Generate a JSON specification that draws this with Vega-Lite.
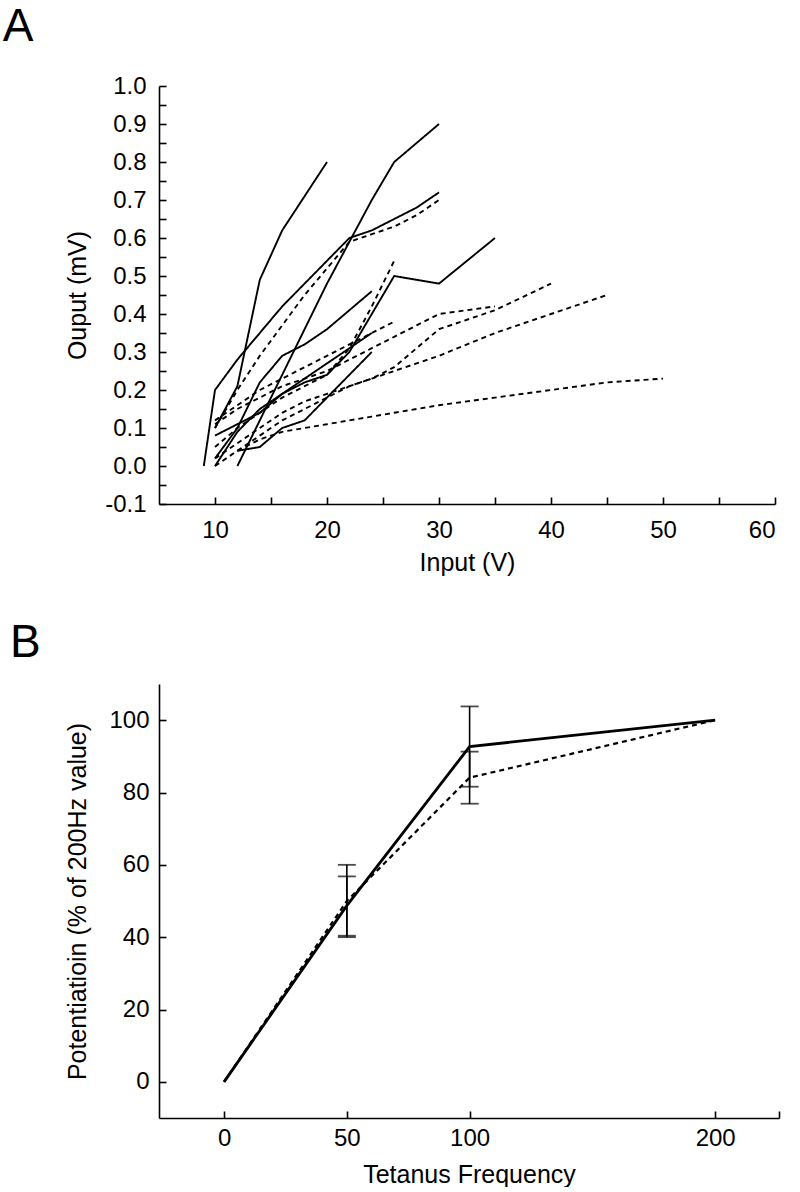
{
  "$schema": "https://vega.github.io/schema/vega-lite/v6.json",
  "background": "white",
  "padding": {"left": 2, "top": 4, "right": 5, "bottom": 0},
  "spacing": 45,
  "config": {
    "font": "Liberation Sans",
    "view": {"stroke": null},
    "axis": {
      "domainColor": "black", "tickColor": "black", "labelColor": "black", "titleColor": "black",
      "labelFont": "Liberation Sans", "titleFont": "Liberation Sans",
      "labelFontSize": 24, "titleFontSize": 25, "titleFontWeight": "normal",
      "grid": false, "domainWidth": 1.6, "tickWidth": 1.6, "tickSize": -7, "labelPadding": 21,
      "labelOverlap": false
    },
    "title": {"fontSize": 46, "fontWeight": "normal", "anchor": "start", "frame": "bounds", "color": "black", "font": "Liberation Sans"}
  },
  "datasets": {
    "a": [
      {"series": "S1", "kind": "control", "input": 10, "output": 0.10},
      {"series": "S1", "kind": "control", "input": 12, "output": 0.21},
      {"series": "S1", "kind": "control", "input": 14, "output": 0.49},
      {"series": "S1", "kind": "control", "input": 16, "output": 0.62},
      {"series": "S1", "kind": "control", "input": 18, "output": 0.71},
      {"series": "S1", "kind": "control", "input": 20, "output": 0.80},
      {"series": "S2", "kind": "control", "input": 12, "output": 0.0},
      {"series": "S2", "kind": "control", "input": 14, "output": 0.12},
      {"series": "S2", "kind": "control", "input": 16, "output": 0.24},
      {"series": "S2", "kind": "control", "input": 18, "output": 0.36},
      {"series": "S2", "kind": "control", "input": 20, "output": 0.48},
      {"series": "S2", "kind": "control", "input": 22, "output": 0.59},
      {"series": "S2", "kind": "control", "input": 24, "output": 0.70},
      {"series": "S2", "kind": "control", "input": 26, "output": 0.80},
      {"series": "S2", "kind": "control", "input": 28, "output": 0.85},
      {"series": "S2", "kind": "control", "input": 30, "output": 0.90},
      {"series": "S3", "kind": "control", "input": 9, "output": 0.0},
      {"series": "S3", "kind": "control", "input": 10, "output": 0.20},
      {"series": "S3", "kind": "control", "input": 12, "output": 0.28},
      {"series": "S3", "kind": "control", "input": 14, "output": 0.35},
      {"series": "S3", "kind": "control", "input": 16, "output": 0.42},
      {"series": "S3", "kind": "control", "input": 18, "output": 0.48},
      {"series": "S3", "kind": "control", "input": 20, "output": 0.54},
      {"series": "S3", "kind": "control", "input": 22, "output": 0.60},
      {"series": "S3", "kind": "control", "input": 24, "output": 0.62},
      {"series": "S3", "kind": "control", "input": 26, "output": 0.65},
      {"series": "S3", "kind": "control", "input": 28, "output": 0.68},
      {"series": "S3", "kind": "control", "input": 30, "output": 0.72},
      {"series": "S4", "kind": "control", "input": 10, "output": 0.0},
      {"series": "S4", "kind": "control", "input": 12, "output": 0.09},
      {"series": "S4", "kind": "control", "input": 14, "output": 0.15},
      {"series": "S4", "kind": "control", "input": 16, "output": 0.19},
      {"series": "S4", "kind": "control", "input": 18, "output": 0.22},
      {"series": "S4", "kind": "control", "input": 20, "output": 0.24},
      {"series": "S4", "kind": "control", "input": 22, "output": 0.30},
      {"series": "S4", "kind": "control", "input": 26, "output": 0.50},
      {"series": "S4", "kind": "control", "input": 30, "output": 0.48},
      {"series": "S4", "kind": "control", "input": 35, "output": 0.60},
      {"series": "S5", "kind": "control", "input": 10, "output": 0.08},
      {"series": "S5", "kind": "control", "input": 12, "output": 0.11},
      {"series": "S5", "kind": "control", "input": 14, "output": 0.14},
      {"series": "S5", "kind": "control", "input": 16, "output": 0.19},
      {"series": "S5", "kind": "control", "input": 18, "output": 0.23},
      {"series": "S5", "kind": "control", "input": 20, "output": 0.27},
      {"series": "S5", "kind": "control", "input": 22, "output": 0.31},
      {"series": "S5", "kind": "control", "input": 24, "output": 0.35},
      {"series": "S6", "kind": "control", "input": 12, "output": 0.04},
      {"series": "S6", "kind": "control", "input": 14, "output": 0.05},
      {"series": "S6", "kind": "control", "input": 16, "output": 0.10},
      {"series": "S6", "kind": "control", "input": 18, "output": 0.12},
      {"series": "S6", "kind": "control", "input": 20, "output": 0.18},
      {"series": "S6", "kind": "control", "input": 22, "output": 0.24},
      {"series": "S6", "kind": "control", "input": 24, "output": 0.30},
      {"series": "S7", "kind": "control", "input": 10, "output": 0.02},
      {"series": "S7", "kind": "control", "input": 12, "output": 0.10},
      {"series": "S7", "kind": "control", "input": 14, "output": 0.22},
      {"series": "S7", "kind": "control", "input": 16, "output": 0.29},
      {"series": "S7", "kind": "control", "input": 18, "output": 0.32},
      {"series": "S7", "kind": "control", "input": 20, "output": 0.36},
      {"series": "S7", "kind": "control", "input": 22, "output": 0.41},
      {"series": "S7", "kind": "control", "input": 24, "output": 0.46},
      {"series": "D1", "kind": "test", "input": 10, "output": 0.10},
      {"series": "D1", "kind": "test", "input": 12, "output": 0.20},
      {"series": "D1", "kind": "test", "input": 14, "output": 0.29},
      {"series": "D1", "kind": "test", "input": 16, "output": 0.37},
      {"series": "D1", "kind": "test", "input": 18, "output": 0.45},
      {"series": "D1", "kind": "test", "input": 20, "output": 0.52},
      {"series": "D1", "kind": "test", "input": 22, "output": 0.59},
      {"series": "D1", "kind": "test", "input": 24, "output": 0.61},
      {"series": "D1", "kind": "test", "input": 26, "output": 0.63},
      {"series": "D1", "kind": "test", "input": 28, "output": 0.66},
      {"series": "D1", "kind": "test", "input": 30, "output": 0.70},
      {"series": "D2", "kind": "test", "input": 10, "output": 0.05},
      {"series": "D2", "kind": "test", "input": 12, "output": 0.10},
      {"series": "D2", "kind": "test", "input": 14, "output": 0.14},
      {"series": "D2", "kind": "test", "input": 16, "output": 0.18},
      {"series": "D2", "kind": "test", "input": 18, "output": 0.21},
      {"series": "D2", "kind": "test", "input": 20, "output": 0.24},
      {"series": "D2", "kind": "test", "input": 22, "output": 0.31},
      {"series": "D2", "kind": "test", "input": 24, "output": 0.42},
      {"series": "D2", "kind": "test", "input": 26, "output": 0.54},
      {"series": "D3", "kind": "test", "input": 10, "output": 0.02},
      {"series": "D3", "kind": "test", "input": 12, "output": 0.06},
      {"series": "D3", "kind": "test", "input": 14, "output": 0.10},
      {"series": "D3", "kind": "test", "input": 16, "output": 0.14},
      {"series": "D3", "kind": "test", "input": 18, "output": 0.17},
      {"series": "D3", "kind": "test", "input": 20, "output": 0.19},
      {"series": "D3", "kind": "test", "input": 22, "output": 0.21},
      {"series": "D3", "kind": "test", "input": 24, "output": 0.23},
      {"series": "D3", "kind": "test", "input": 26, "output": 0.26},
      {"series": "D3", "kind": "test", "input": 28, "output": 0.31},
      {"series": "D3", "kind": "test", "input": 30, "output": 0.36},
      {"series": "D3", "kind": "test", "input": 35, "output": 0.41},
      {"series": "D3", "kind": "test", "input": 40, "output": 0.48},
      {"series": "D4", "kind": "test", "input": 10, "output": 0.0},
      {"series": "D4", "kind": "test", "input": 12, "output": 0.04},
      {"series": "D4", "kind": "test", "input": 14, "output": 0.08},
      {"series": "D4", "kind": "test", "input": 16, "output": 0.12},
      {"series": "D4", "kind": "test", "input": 18, "output": 0.15},
      {"series": "D4", "kind": "test", "input": 20, "output": 0.18},
      {"series": "D4", "kind": "test", "input": 22, "output": 0.21},
      {"series": "D4", "kind": "test", "input": 24, "output": 0.23},
      {"series": "D4", "kind": "test", "input": 26, "output": 0.25},
      {"series": "D4", "kind": "test", "input": 28, "output": 0.27},
      {"series": "D4", "kind": "test", "input": 30, "output": 0.29},
      {"series": "D4", "kind": "test", "input": 35, "output": 0.35},
      {"series": "D4", "kind": "test", "input": 40, "output": 0.40},
      {"series": "D4", "kind": "test", "input": 45, "output": 0.45},
      {"series": "D5", "kind": "test", "input": 10, "output": 0.11},
      {"series": "D5", "kind": "test", "input": 12, "output": 0.15},
      {"series": "D5", "kind": "test", "input": 14, "output": 0.18},
      {"series": "D5", "kind": "test", "input": 16, "output": 0.21},
      {"series": "D5", "kind": "test", "input": 18, "output": 0.23},
      {"series": "D5", "kind": "test", "input": 20, "output": 0.25},
      {"series": "D5", "kind": "test", "input": 22, "output": 0.28},
      {"series": "D5", "kind": "test", "input": 24, "output": 0.31},
      {"series": "D5", "kind": "test", "input": 26, "output": 0.34},
      {"series": "D5", "kind": "test", "input": 28, "output": 0.37},
      {"series": "D5", "kind": "test", "input": 30, "output": 0.40},
      {"series": "D5", "kind": "test", "input": 35, "output": 0.42},
      {"series": "D6", "kind": "test", "input": 10, "output": 0.12},
      {"series": "D6", "kind": "test", "input": 12, "output": 0.16},
      {"series": "D6", "kind": "test", "input": 14, "output": 0.20},
      {"series": "D6", "kind": "test", "input": 16, "output": 0.23},
      {"series": "D6", "kind": "test", "input": 18, "output": 0.26},
      {"series": "D6", "kind": "test", "input": 20, "output": 0.29},
      {"series": "D6", "kind": "test", "input": 22, "output": 0.32},
      {"series": "D6", "kind": "test", "input": 24, "output": 0.35},
      {"series": "D6", "kind": "test", "input": 26, "output": 0.38},
      {"series": "D7", "kind": "test", "input": 12, "output": 0.04},
      {"series": "D7", "kind": "test", "input": 14, "output": 0.07},
      {"series": "D7", "kind": "test", "input": 16, "output": 0.09},
      {"series": "D7", "kind": "test", "input": 18, "output": 0.10},
      {"series": "D7", "kind": "test", "input": 20, "output": 0.11},
      {"series": "D7", "kind": "test", "input": 22, "output": 0.12},
      {"series": "D7", "kind": "test", "input": 24, "output": 0.13},
      {"series": "D7", "kind": "test", "input": 26, "output": 0.14},
      {"series": "D7", "kind": "test", "input": 28, "output": 0.15},
      {"series": "D7", "kind": "test", "input": 30, "output": 0.16},
      {"series": "D7", "kind": "test", "input": 35, "output": 0.18},
      {"series": "D7", "kind": "test", "input": 40, "output": 0.20},
      {"series": "D7", "kind": "test", "input": 45, "output": 0.22},
      {"series": "D7", "kind": "test", "input": 50, "output": 0.23}
    ],
    "bline": [
      {"condition": "control", "freq": 0, "pot": 0},
      {"condition": "control", "freq": 50, "pot": 48.7},
      {"condition": "control", "freq": 100, "pot": 92.7},
      {"condition": "control", "freq": 200, "pot": 100},
      {"condition": "test", "freq": 0, "pot": 0},
      {"condition": "test", "freq": 50, "pot": 50},
      {"condition": "test", "freq": 100, "pot": 84.1},
      {"condition": "test", "freq": 200, "pot": 100}
    ],
    "berr": [
      {"condition": "control", "freq": 50, "lo": 40.4, "hi": 56.8},
      {"condition": "test", "freq": 50, "lo": 40, "hi": 60},
      {"condition": "control", "freq": 100, "lo": 81.6, "hi": 103.8},
      {"condition": "test", "freq": 100, "lo": 76.9, "hi": 91.3}
    ]
  },
  "vconcat": [
    {
      "title": {"text": "A", "dx": -63, "offset": 23},
      "width": 616,
      "height": 418,
      "data": {"name": "a"},
      "mark": {"type": "line", "color": "black", "strokeWidth": 1.9},
      "encoding": {
        "x": {
          "field": "input", "type": "quantitative",
          "scale": {"domain": [5, 60], "nice": false, "zero": false},
          "axis": {
            "title": "Input (V)",
            "values": [10, 15, 20, 25, 30, 35, 40, 45, 50, 55, 60],
            "labelExpr": "datum.value % 10 === 0 ? datum.label : ''",
            "titlePadding": 8
          }
        },
        "y": {
          "field": "output", "type": "quantitative",
          "scale": {"domain": [-0.1, 1.0], "nice": false, "zero": false},
          "axis": {
            "title": "Ouput (mV)",
            "values": [-0.1, -0.05, 0, 0.05, 0.1, 0.15, 0.2, 0.25, 0.3, 0.35, 0.4, 0.45, 0.5, 0.55, 0.6, 0.65, 0.7, 0.75, 0.8, 0.85, 0.9, 0.95, 1.0],
            "labelExpr": "abs(round(datum.value * 20)) % 2 === 0 ? replace(format(datum.value, '.1f'), '\u2212', '-') : ''",
            "labelPadding": 20, "titlePadding": 14
          }
        },
        "detail": {"field": "series", "type": "nominal"},
        "strokeDash": {
          "field": "kind", "type": "nominal",
          "scale": {"domain": ["control", "test"], "range": [[1, 0], [5, 4]]},
          "legend": null
        }
      }
    },
    {
      "title": {"text": "B", "dx": -56, "offset": 17},
      "width": 620,
      "height": 434,
      "layer": [
        {
          "data": {"name": "bline"},
          "transform": [{"filter": "datum.condition === 'test'"}],
          "mark": {"type": "line", "color": "black", "strokeWidth": 2.2, "strokeDash": [5, 4]},
          "encoding": {
            "x": {
              "field": "freq", "type": "quantitative", "title": "Tetanus Frequency",
              "scale": {"domain": [-26.5, 226], "nice": false, "zero": false},
              "axis": {"values": [0, 50, 100, 200, 226], "labelExpr": "datum.value === 226 ? '' : datum.label", "labelPadding": 15, "titlePadding": 12}
            },
            "y": {
              "field": "pot", "type": "quantitative", "title": "Potentiatioin (% of 200Hz value)",
              "scale": {"domain": [-10, 110], "nice": false, "zero": false},
              "axis": {"values": [0, 20, 40, 60, 80, 100], "format": "d", "labelPadding": 17, "titlePadding": 18}
            }
          }
        },
        {
          "data": {"name": "bline"},
          "transform": [{"filter": "datum.condition === 'control'"}],
          "mark": {"type": "line", "color": "black", "strokeWidth": 2.8},
          "encoding": {
            "x": {"field": "freq", "type": "quantitative", "title": "Tetanus Frequency",
              "axis": {"values": [0, 50, 100, 200, 226], "labelExpr": "datum.value === 226 ? '' : datum.label", "labelPadding": 15, "titlePadding": 12}},
            "y": {"field": "pot", "type": "quantitative", "title": "Potentiatioin (% of 200Hz value)",
              "axis": {"values": [0, 20, 40, 60, 80, 100], "format": "d", "labelPadding": 17, "titlePadding": 18}}
          }
        },
        {
          "data": {"name": "berr"},
          "mark": {"type": "rule", "color": "black", "strokeWidth": 1.6},
          "encoding": {
            "x": {"field": "freq", "type": "quantitative", "title": "Tetanus Frequency",
              "axis": {"values": [0, 50, 100, 200, 226], "labelExpr": "datum.value === 226 ? '' : datum.label", "labelPadding": 15, "titlePadding": 12}},
            "y": {"field": "lo", "type": "quantitative", "title": "Potentiatioin (% of 200Hz value)",
              "axis": {"values": [0, 20, 40, 60, 80, 100], "format": "d", "labelPadding": 17, "titlePadding": 18}},
            "y2": {"field": "hi"}
          }
        },
        {
          "data": {"name": "berr"},
          "mark": {"type": "tick", "orient": "horizontal", "color": "black", "size": 18, "thickness": 1.8},
          "encoding": {
            "x": {"field": "freq", "type": "quantitative", "title": "Tetanus Frequency",
              "axis": {"values": [0, 50, 100, 200, 226], "labelExpr": "datum.value === 226 ? '' : datum.label", "labelPadding": 15, "titlePadding": 12}},
            "y": {"field": "lo", "type": "quantitative", "title": "Potentiatioin (% of 200Hz value)",
              "axis": {"values": [0, 20, 40, 60, 80, 100], "format": "d", "labelPadding": 17, "titlePadding": 18}}
          }
        },
        {
          "data": {"name": "berr"},
          "mark": {"type": "tick", "orient": "horizontal", "color": "black", "size": 18, "thickness": 1.8},
          "encoding": {
            "x": {"field": "freq", "type": "quantitative", "title": "Tetanus Frequency",
              "axis": {"values": [0, 50, 100, 200, 226], "labelExpr": "datum.value === 226 ? '' : datum.label", "labelPadding": 15, "titlePadding": 12}},
            "y": {"field": "hi", "type": "quantitative", "title": "Potentiatioin (% of 200Hz value)",
              "axis": {"values": [0, 20, 40, 60, 80, 100], "format": "d", "labelPadding": 17, "titlePadding": 18}}
          }
        }
      ]
    }
  ]
}
